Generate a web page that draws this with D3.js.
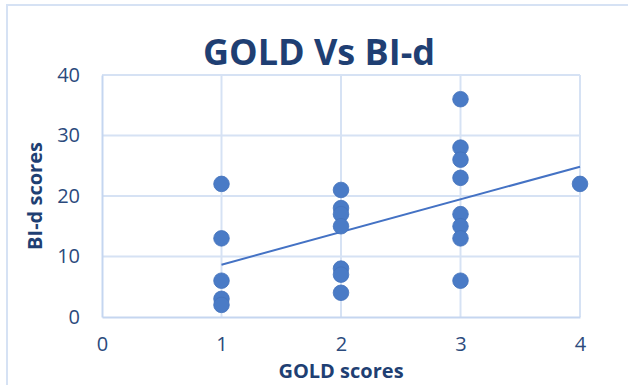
<!DOCTYPE html>
<html>
<head>
<meta charset="utf-8">
<script src="https://cdn.jsdelivr.net/npm/d3@7"></script>
<style>
  body { margin:0; background:#fff; }
  text { font-family: "Open Sans", "DejaVu Sans", sans-serif; }
</style>
</head>
<body>
<div id="chart-area"></div>
<script>
// GOLD score (x) and BI-d score (y) for each patient
var goldScores = [1, 1, 1, 1, 1,
                  2, 2, 2, 2, 2, 2, 2,
                  3, 3, 3, 3, 3, 3, 3, 3,
                  4];
var bidScores  = [22, 13, 6, 3, 2,
                  21, 18, 17, 15, 8, 7, 4,
                  36, 28, 26, 23, 17, 15, 13, 6,
                  22];
var xTicks = [0, 1, 2, 3, 4];
var yTicks = [0, 10, 20, 30, 40];

var W = 628, H = 385;
var margin = { left:102, right:48, top:75, bottom:68 };
var width = W - margin.left - margin.right,
    height = H - margin.top - margin.bottom;

var gridColor = "#d6e2f4",
    textColor = "#2b4a7c",
    titleColor = "#1f3f73",
    dotColor = "#4a7bc6";

var svg = d3.select("#chart-area")
    .append("svg")
        .attr("width", W)
        .attr("height", H);

// outer chart frame (cut off at right and bottom)
svg.append("rect")
    .attr("x", 7).attr("y", 5)
    .attr("width", W + 20).attr("height", H + 20)
    .attr("fill", "none")
    .attr("stroke", gridColor)
    .attr("stroke-width", 2);

var g = svg.append("g")
    .attr("transform", "translate(" + margin.left + "," + margin.top + ")");

var x = d3.scaleLinear().domain([0, 4]).range([0, width]);
var y = d3.scaleLinear().domain([0, 40]).range([height, 0]);

// gridlines
g.append("g").selectAll("line")
    .data(xTicks.slice(1))
    .enter().append("line")
        .attr("x1", function(d){ return x(d); })
        .attr("x2", function(d){ return x(d); })
        .attr("y1", 0).attr("y2", height)
        .attr("stroke", gridColor)
        .attr("stroke-width", 2);

g.append("g").selectAll("line")
    .data(yTicks.slice(1))
    .enter().append("line")
        .attr("x1", 0).attr("x2", width)
        .attr("y1", function(d){ return y(d); })
        .attr("y2", function(d){ return y(d); })
        .attr("stroke", gridColor)
        .attr("stroke-width", 2);

// axes
var xAxisCall = d3.axisBottom(x).tickValues(xTicks).tickFormat(d3.format("d"))
    .tickSize(0).tickPadding(20);
var xAxisGroup = g.append("g")
    .attr("transform", "translate(0," + height + ")")
    .call(xAxisCall);

var yAxisCall = d3.axisLeft(y).tickValues(yTicks).tickFormat(d3.format("d"))
    .tickSize(0).tickPadding(22);
var yAxisGroup = g.append("g").call(yAxisCall);

[xAxisGroup, yAxisGroup].forEach(function(ax){
  ax.select(".domain")
    .attr("stroke", "#c5d6f0")
    .attr("stroke-width", 2);
  ax.selectAll("text")
    .attr("font-family", "'Open Sans', sans-serif")
    .attr("font-size", "20px")
    .attr("fill", textColor);
});

// linear trendline (least squares) over data range
var n = goldScores.length,
    mx = d3.mean(goldScores),
    my = d3.mean(bidScores);
var sxy = 0, sxx = 0;
for (var i = 0; i < n; i++) {
  sxy += (goldScores[i] - mx) * (bidScores[i] - my);
  sxx += (goldScores[i] - mx) * (goldScores[i] - mx);
}
var slope = sxy / sxx, intercept = my - slope * mx;
var xExt = d3.extent(goldScores);

g.append("line")
    .attr("x1", x(xExt[0])).attr("y1", y(intercept + slope * xExt[0]))
    .attr("x2", x(xExt[1])).attr("y2", y(intercept + slope * xExt[1]))
    .attr("stroke", "#4472c4")
    .attr("stroke-width", 2);

// points
g.append("g").selectAll("circle")
    .data(goldScores)
    .enter().append("circle")
        .attr("cx", function(d){ return x(d); })
        .attr("cy", function(d, i){ return y(bidScores[i]); })
        .attr("r", 7.8)
        .attr("fill", dotColor)
        .attr("stroke", "#4472bb")
        .attr("stroke-width", 0.8);

// title
svg.append("text")
    .attr("x", 319)
    .attr("y", 65)
    .attr("text-anchor", "middle")
    .attr("font-size", "36px")
    .attr("font-weight", "bold")
    .attr("fill", titleColor)
    .text("GOLD Vs BI-d");

// x label
svg.append("text")
    .attr("x", margin.left + width / 2)
    .attr("y", 378)
    .attr("text-anchor", "middle")
    .attr("font-size", "20px")
    .attr("font-weight", "bold")
    .attr("fill", titleColor)
    .text("GOLD scores");

// y label
svg.append("text")
    .attr("transform", "translate(42," + (margin.top + height / 2) + ") rotate(-90)")
    .attr("text-anchor", "middle")
    .attr("font-size", "20px")
    .attr("font-weight", "bold")
    .attr("fill", titleColor)
    .text("BI-d scores");
</script>
</body>
</html>
